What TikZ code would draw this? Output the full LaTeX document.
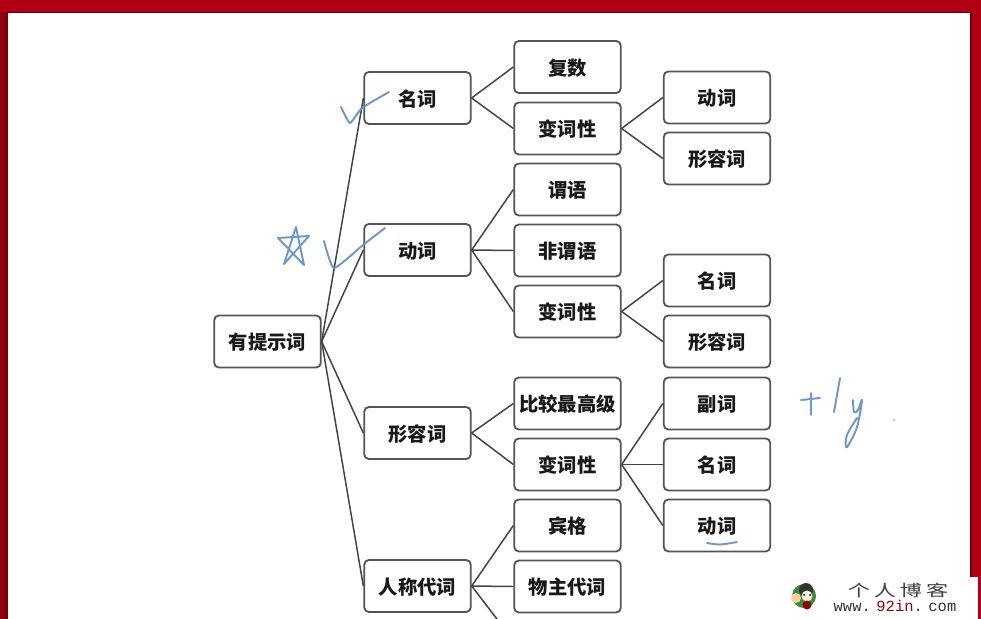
\documentclass[tikz,border=0pt]{standalone}
\usepackage{fontspec}
\newfontfamily\cjk{Noto Sans CJK SC}
\newfontfamily\webfont{Liberation Mono}
\definecolor{bandred}{HTML}{B00012}
\definecolor{banddark}{HTML}{6E0009}
\definecolor{boxline}{HTML}{555555}
\definecolor{linkline}{HTML}{444444}
\definecolor{inkblue}{HTML}{5F8DC4}
\tikzset{
	wordbox/.style={draw=boxline,line width=1.05pt,rounded corners=2.6pt,fill=white,minimum width=2.13cm,minimum height=1.04cm,inner sep=0pt,text height=10.6pt,text depth=1pt,text=black!90,font=\cjk\bfseries\fontsize{11}{13}\selectfont},
	link/.style={draw=linkline,line width=0.85pt},
	ink/.style={draw=inkblue,line width=1.1pt,line cap=round,line join=round,opacity=0.9}
}
\begin{document}
\begin{tikzpicture}[x=0.02cm,y=-0.02cm]
	\useasboundingbox (0,0) rectangle (981,619);
	% red frame
	\fill[bandred!80!black] (0,12) rectangle (7,619);
	\fill[bandred] (0,0) rectangle (981,12);
	\fill[bandred] (971,0) rectangle (981,619);
	\draw[banddark,line width=0.8pt] (7,619) -- (7,12.5) -- (971,12.5) -- (971,619);

	% first level
	\node[wordbox] (root) at (267.5,341.5) {有提示词};
	\foreach \nm/\yy/\tx in {mingci/98/名词,dongci/250/动词,xingrong/433/形容词,daici/586/人称代词}{
		\node[wordbox] (\nm) at (417.5,\yy) {\tx};
		\draw[link] (root.east) -- (\nm.west);
	}

	% second level
	\foreach \pa/\nm/\yy/\tx in {mingci/fushu/67/复数,mingci/bianA/128.5/变词性,
		dongci/weiyu/189.5/谓语,dongci/feiwei/250.5/非谓语,dongci/bianB/311.5/变词性,
		xingrong/bijiao/403.5/比较最高级,xingrong/bianC/464.5/变词性,
		daici/binge/525.5/宾格,daici/wuzhu/586.5/物主代词}{
		\node[wordbox] (\nm) at (567.5,\yy) {\tx};
		\draw[link] (\pa.east) -- (\nm.west);
	}
	\coordinate (offpage) at (497,619);
	\draw[link] (daici.east) -- (offpage);

	% third level
	\foreach \pa/\nm/\yy/\tx in {bianA/dongA/97.5/动词,bianA/xingA/158.5/形容词,
		bianB/mingB/280.5/名词,bianB/xingB/341.5/形容词,
		bianC/fuC/403.5/副词,bianC/mingC/464.5/名词,bianC/dongC/525.5/动词}{
		\node[wordbox] (\nm) at (717,\yy) {\tx};
		\draw[link] (\pa.east) -- (\nm.west);
	}

	% handwriting
	\draw[ink] plot[smooth,tension=0.3] coordinates {(341,107) (350,123) (362,108) (389,92)};
	\draw[ink] plot[smooth,tension=0.3] coordinates {(324,241) (334,268) (363,245) (385,228)};
	\draw[ink] (284,264) -- (296,227) -- (304,265) -- (278,238) -- (309,236) -- cycle;
	\draw[ink] (801,400) -- (820,398) (811,393) -- (811,415);
	\draw[ink] (840,378) -- (834,412);
	\draw[ink] plot[smooth,tension=0.6] coordinates {(853,400) (854,412) (858,410) (862,400) (857,427) (849,444) (846,447) (847,435) (857,418)};
	\fill[inkblue!70] (894,420) circle (1);
	\draw[ink] plot[smooth,tension=0.5] coordinates {(707,543) (720,544.5) (737,542)};

	% blog mark
	\fill[white] (783,577) rectangle (978,619);
	\fill[green!45!black!80] (804,596) circle (12);
	\fill[orange!40] (796,598) circle (5);
	\fill[black!80] (806,590) circle (7);
	\fill[white!90!orange] (807,596) circle (5.5);
	\fill[black] (804,595) circle (1) (810,595) circle (1);
	\fill[red!60!black] (807,605) circle (4.5);
	\node[inner sep=0pt,text=black!75,font=\cjk\fontsize{9}{11}\selectfont] (blogtitle) at (898,590) {\scalebox{1.4}[1]{个\hspace{1.6pt}人\hspace{1.6pt}博\hspace{1.6pt}客}};
	\node[inner sep=0pt,text=black!80,font=\webfont\fontsize{8.8}{10}\selectfont] (blogurl) at (895,606) {www.\hspace{3.2pt}\textcolor{red!60!black}{92in}.\hspace{3.2pt}com};
\end{tikzpicture}
\end{document}
